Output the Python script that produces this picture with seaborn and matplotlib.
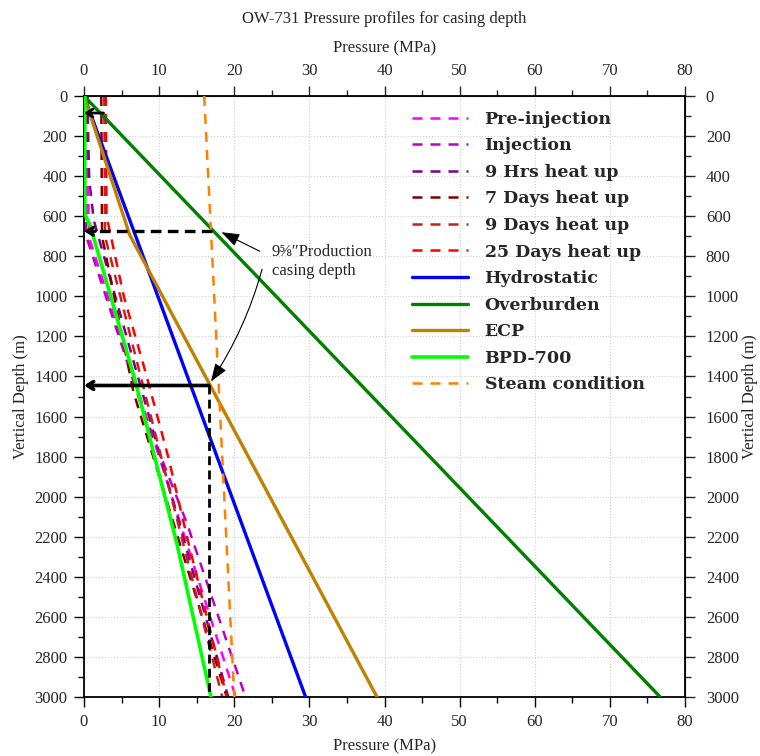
import matplotlib
matplotlib.use("Agg")
import matplotlib.pyplot as plt
from matplotlib.ticker import MultipleLocator, FixedLocator
import seaborn as sns

# ---------------- data ----------------
title = "OW-731 Pressure profiles for casing depth"
x_label = "Pressure (MPa)"
y_label = "Vertical Depth (m)"
pressure_ticks = [0, 10, 20, 30, 40, 50, 60, 70, 80]
depth_ticks = list(range(0, 3001, 200))

pre_inj_depth = [0, 600, 720, 3000]
pre_inj_p = [0.5, 0.6, 0.8, 20.2]
inj_depth = [0, 700, 1576, 2133, 3000]
inj_p = [0.2, 0.3, 7.9, 13.7, 21.5]
hrs9_depth = [0, 420, 620, 3000]
hrs9_p = [0.4, 0.7, 1.3, 19.2]
days7_depth = [0, 700, 1480, 3000]
days7_p = [2.3, 2.4, 6.6, 19.0]
days9_depth = [0, 700, 3000]
days9_p = [2.7, 2.8, 18.4]
days25_depth = [0, 600, 1000, 1380, 1800, 2230, 3000]
days25_p = [2.9, 3.0, 5.3, 8.2, 11.2, 13.9, 19.0]
hydro_depth = [0, 3000]
hydro_p = [0, 29.5]
overburden_depth = [0, 3000]
overburden_p = [0, 76.7]
ecp_depth = [0, 695, 3000]
ecp_p = [0, 6.1, 39.0]
bpd_depth = [0, 590, 644, 1420, 2240, 3000]
bpd_p = [0.1, 0.1, 0.8, 6.8, 12.4, 16.9]
steam_depth = [0, 3000]
steam_p = [16.0, 20.0]

# casing-depth markers
conductor_depth = 85
conductor_p = 2.6
surface_casing_depth = 675
surface_casing_p = 17.0
production_casing_depth = 1445
production_casing_p = 16.6
total_depth = 3000
note_text = "9\u215d\u2033Production\ncasing depth"
note_p, note_depth = 25.0, 826
note_tip1 = (18.3, 680)
note_tail1 = (23.4, 775)
note_tip2 = (16.9, 1425)
note_tail2 = (23.7, 865)

# ---------------- style ----------------
sns.set_style("ticks")
plt.rcParams["font.family"] = ["Liberation Serif", "DejaVu Serif"]

fig = plt.figure(figsize=(7.6, 7.56), dpi=100)
ax = fig.add_axes([84 / 760, 1 - 697 / 756, 601 / 760, 601 / 756])

dash = (0, (4, 3.2))
series = [
    ("Pre-injection", pre_inj_p, pre_inj_depth, "#FF00FF", dash, 1.8, 2),
    ("Injection", inj_p, inj_depth, "#C000C0", dash, 1.8, 2),
    ("9 Hrs heat up", hrs9_p, hrs9_depth, "#800080", dash, 1.8, 2),
    ("7 Days heat up", days7_p, days7_depth, "#800000", dash, 1.8, 2),
    ("9 Days heat up", days9_p, days9_depth, "#C82020", dash, 1.8, 2),
    ("25 Days heat up", days25_p, days25_depth, "#FF0000", dash, 1.8, 2),
    ("Hydrostatic", hydro_p, hydro_depth, "#0000FF", "-", 2.4, 3),
    ("Overburden", overburden_p, overburden_depth, "#008000", "-", 2.4, 3),
    ("ECP", ecp_p, ecp_depth, "#C08000", "-", 2.4, 3),
    ("BPD-700", bpd_p, bpd_depth, "#00FF00", "-", 2.6, 3),
    ("Steam condition", steam_p, steam_depth, "#FF8000", dash, 1.8, 3),
]
for label, p, d, c, ls, lw, z in series:
    sns.lineplot(x=p, y=d, sort=False, estimator=None, ax=ax, color=c,
                 linestyle=ls, lw=lw, label=label, zorder=z)

# casing depth guide lines
sns.lineplot(x=[surface_casing_p, 0.6], y=[surface_casing_depth] * 2, sort=False,
             estimator=None, ax=ax, color="black", lw=2.4,
             linestyle=(0, (3.2, 1.9)), zorder=4)
sns.lineplot(x=[production_casing_p] * 2, y=[production_casing_depth, total_depth],
             sort=False, estimator=None, ax=ax, color="black", lw=2.0,
             linestyle=(0, (3.2, 1.9)), zorder=4)

arrow_kw = dict(arrowstyle="->,head_length=0.45,head_width=0.28", color="black",
                shrinkA=0, shrinkB=0)
ax.annotate("", xy=(0, conductor_depth), xytext=(conductor_p, conductor_depth),
            arrowprops=dict(lw=2.0, **arrow_kw), zorder=5)
ax.annotate("", xy=(0, surface_casing_depth), xytext=(1.5, surface_casing_depth),
            arrowprops=dict(lw=2.4, **arrow_kw), zorder=5)
ax.annotate("", xy=(0, production_casing_depth),
            xytext=(production_casing_p, production_casing_depth),
            arrowprops=dict(lw=2.6, **arrow_kw), zorder=5)

ax.text(note_p, note_depth, note_text, ha="left", va="center", fontsize=12,
        linespacing=1.2)
tip_kw = dict(arrowstyle="-|>,head_length=0.55,head_width=0.2", color="black",
              lw=0.8, shrinkA=0, shrinkB=0, mutation_scale=20)
ax.annotate("", xy=note_tip1, xytext=note_tail1, arrowprops=tip_kw, zorder=5)
ax.annotate("", xy=note_tip2, xytext=note_tail2,
            arrowprops=dict(connectionstyle="arc3,rad=-0.08", **tip_kw), zorder=5)

# ---------------- axes ----------------
ax.set_xlim(0, 80)
ax.set_ylim(3000, 0)
ax.xaxis.set_major_locator(FixedLocator(pressure_ticks))
ax.xaxis.set_minor_locator(MultipleLocator(5))
ax.yaxis.set_major_locator(FixedLocator(depth_ticks))
ax.yaxis.set_minor_locator(MultipleLocator(100))
ax.grid(True, which="major", color="#cfcfcf", linestyle=":", linewidth=0.8)
ax.tick_params(which="major", direction="out", length=7, width=1.0,
               labelsize=12, pad=5, color="black")
ax.tick_params(which="minor", direction="out", length=4, width=1.0, color="black")
for s in ax.spines.values():
    s.set_color("black")
    s.set_linewidth(1.3)

ax.set_xlabel(x_label, fontsize=12, labelpad=6)
ax.set_ylabel(y_label, fontsize=12, labelpad=4)

secx = ax.secondary_xaxis("top")
secx.xaxis.set_major_locator(FixedLocator(pressure_ticks))
secx.xaxis.set_minor_locator(MultipleLocator(5))
secx.tick_params(which="major", direction="out", length=7, width=1.0,
                 labelsize=12, pad=5)
secx.tick_params(which="minor", direction="out", length=4, width=1.0)
secx.set_xlabel(x_label, fontsize=12, labelpad=8)

secy = ax.secondary_yaxis("right")
secy.yaxis.set_major_locator(FixedLocator(depth_ticks))
secy.yaxis.set_minor_locator(MultipleLocator(100))
secy.tick_params(which="major", direction="out", length=7, width=1.0,
                 labelsize=12, pad=8)
secy.tick_params(which="minor", direction="out", length=4, width=1.0)
secy.set_ylabel(y_label, fontsize=12, labelpad=2, rotation=90)

ax.set_title(title, fontsize=12, y=(697 - 23) / 601, pad=0)

ax.legend(loc="upper left", bbox_to_anchor=(0.535, 0.987), frameon=False,
          prop=dict(family="DejaVu Serif", weight="bold", size=12.5),
          handlelength=3.2, handletextpad=0.95, labelspacing=0.55,
          borderaxespad=0)

fig.savefig("out.png", dpi=100)
